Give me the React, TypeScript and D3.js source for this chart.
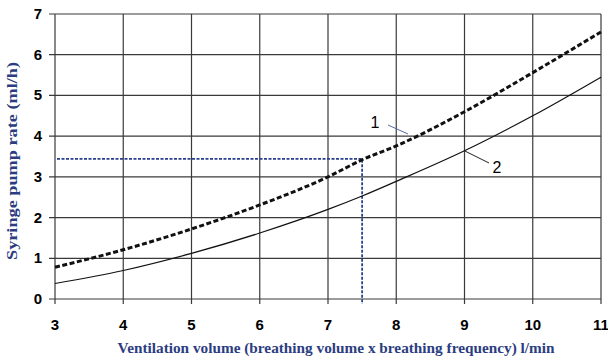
import React, { useEffect, useRef } from "react";
import * as d3 from "d3";

const xValues = [3, 4, 5, 6, 7, 7.5, 8, 9, 10, 11];
const curve1 = [0.78, 1.21, 1.72, 2.31, 3.0, 3.42, 3.76, 4.6, 5.56, 6.56];
const curve2 = [0.38, 0.7, 1.12, 1.62, 2.2, 2.53, 2.89, 3.64, 4.5, 5.45];
const xTicks = [3, 4, 5, 6, 7, 8, 9, 10, 11];
const yTicks = [0, 1, 2, 3, 4, 5, 6, 7];
const refPoint = { x: 7.5, y: 3.44 };

const W = 608;
const H = 358;

const App = () => {
  const svgRef = useRef<SVGSVGElement>(null);

  useEffect(() => {
    const svg = d3.select(svgRef.current);
    svg.selectAll("*").remove();

    const x = d3.scaleLinear().domain([3, 11]).range([55, 601]);
    const y = d3.scaleLinear().domain([0, 7]).range([299, 14]);

    const grid = svg.append("g").attr("stroke", "#3a3a3a").attr("stroke-width", 1.2);

    // vertical grid lines with small tick below
    grid
      .selectAll("line.v")
      .data(xTicks)
      .join("line")
      .attr("x1", (d) => x(d))
      .attr("x2", (d) => x(d))
      .attr("y1", y(7))
      .attr("y2", y(0) + 5);

    grid
      .selectAll("line.h")
      .data(yTicks)
      .join("line")
      .attr("class", "h")
      .attr("x1", x(3) - 6)
      .attr("x2", x(11))
      .attr("y1", (d) => y(d))
      .attr("y2", (d) => y(d));

    // tick labels
    svg
      .append("g")
      .selectAll("text")
      .data(xTicks)
      .join("text")
      .attr("x", (d) => x(d))
      .attr("y", 330)
      .attr("text-anchor", "middle")
      .attr("font-family", "'Liberation Sans', Arial, sans-serif")
      .attr("font-weight", "bold")
      .attr("font-size", 15)
      .text((d) => d);

    svg
      .append("g")
      .selectAll("text")
      .data(yTicks)
      .join("text")
      .attr("x", 42)
      .attr("y", (d) => y(d) + 5)
      .attr("text-anchor", "end")
      .attr("font-family", "'Liberation Sans', Arial, sans-serif")
      .attr("font-weight", "bold")
      .attr("font-size", 15)
      .text((d) => d);

    // reference dashed blue lines
    svg
      .append("path")
      .attr(
        "d",
        `M${x(3) + 2},${y(refPoint.y)}H${x(refPoint.x)}V${y(0) + 5}`
      )
      .attr("fill", "none")
      .attr("stroke", "#2a3f8f")
      .attr("stroke-width", 1.8)
      .attr("stroke-dasharray", "3,1.5");

    const line = d3
      .line<number>()
      .x((_, i) => x(xValues[i]))
      .y((d) => y(d))
      .curve(d3.curveMonotoneX);

    svg
      .append("path")
      .attr("d", line(curve2))
      .attr("fill", "none")
      .attr("stroke", "#111")
      .attr("stroke-width", 1.2);

    svg
      .append("path")
      .attr("d", line(curve1))
      .attr("fill", "none")
      .attr("stroke", "#111")
      .attr("stroke-width", 3)
      .attr("stroke-dasharray", "5,2.5");

    // curve labels with leader lines
    svg
      .append("line")
      .attr("x1", 388)
      .attr("y1", 125)
      .attr("x2", 408)
      .attr("y2", 134)
      .attr("stroke", "#5a6aa8")
      .attr("stroke-width", 1);
    svg
      .append("line")
      .attr("x1", x(9))
      .attr("y1", y(3.64))
      .attr("x2", 489)
      .attr("y2", 163)
      .attr("stroke", "#222")
      .attr("stroke-width", 1);

    svg
      .append("text")
      .attr("x", 375)
      .attr("y", 128)
      .attr("text-anchor", "middle")
      .attr("font-family", "'Liberation Sans', Arial, sans-serif")
      .attr("font-size", 16)
      .text("1");
    svg
      .append("text")
      .attr("x", 497)
      .attr("y", 173)
      .attr("text-anchor", "middle")
      .attr("font-family", "'Liberation Sans', Arial, sans-serif")
      .attr("font-size", 16)
      .text("2");

    // axis titles
    svg
      .append("text")
      .attr("x", 336)
      .attr("y", 353)
      .attr("text-anchor", "middle")
      .attr("font-family", "'Liberation Serif', 'Times New Roman', serif")
      .attr("font-weight", "bold")
      .attr("font-size", 15)
      .attr("textLength", 437)
      .attr("lengthAdjust", "spacingAndGlyphs")
      .attr("fill", "#2b3d80")
      .text("Ventilation volume (breathing volume x breathing frequency) l/min");

    svg
      .append("text")
      .attr("transform", "translate(17,161) rotate(-90)")
      .attr("text-anchor", "middle")
      .attr("font-family", "'Liberation Serif', 'Times New Roman', serif")
      .attr("font-weight", "bold")
      .attr("font-size", 15)
      .attr("textLength", 198)
      .attr("lengthAdjust", "spacingAndGlyphs")
      .attr("fill", "#2b3d80")
      .text("Syringe pump rate (ml/h)");
  }, []);

  return (
    <svg
      ref={svgRef}
      width={W}
      height={H}
      style={{ position: "absolute", left: 0, top: 0, background: "white" }}
    />
  );
};

export default App;
